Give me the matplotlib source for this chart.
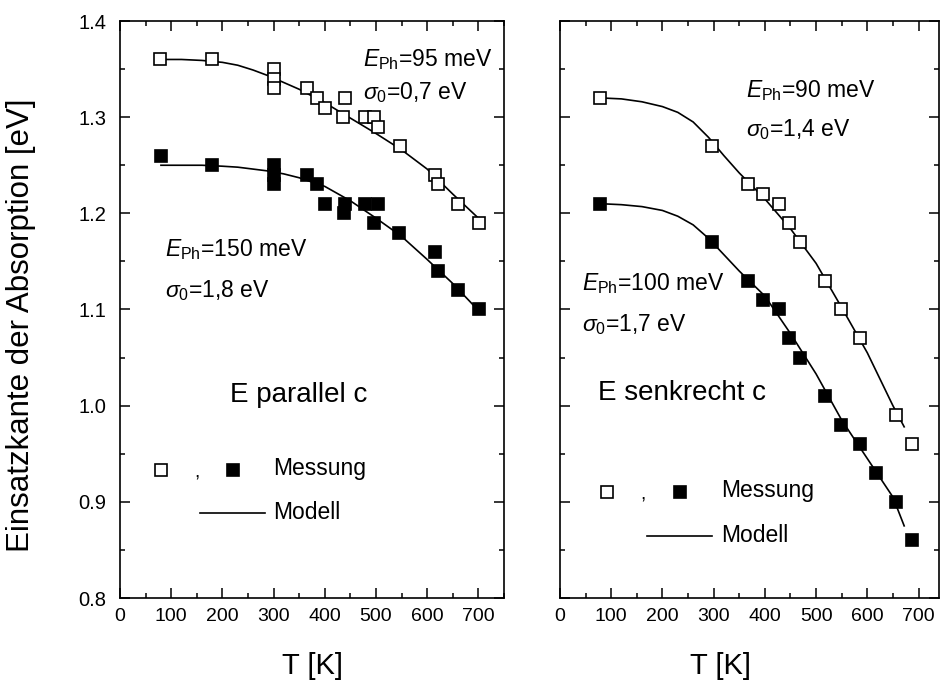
import matplotlib
matplotlib.use("Agg")
import matplotlib.pyplot as plt
from matplotlib.ticker import MultipleLocator

plt.rcParams['font.family'] = ['Liberation Sans', 'DejaVu Sans']
plt.rcParams['mathtext.fontset'] = 'custom'
plt.rcParams['mathtext.rm'] = 'Liberation Sans'
plt.rcParams['mathtext.it'] = 'Liberation Sans:italic'

# ---- Left panel: E parallel c ----
par_open_T = [78, 179, 300, 300, 300, 365, 385, 401, 440, 435, 478, 496, 504, 547, 616, 621, 661, 701]
par_open_E = [1.36, 1.36, 1.35, 1.34, 1.33, 1.33, 1.32, 1.31, 1.32, 1.30, 1.30, 1.30, 1.29, 1.27, 1.24, 1.23, 1.21, 1.19]
par_fill_T = [80, 179, 300, 300, 300, 365, 385, 400, 440, 437, 478, 504, 496, 545, 616, 621, 661, 701]
par_fill_E = [1.26, 1.25, 1.25, 1.24, 1.23, 1.24, 1.23, 1.21, 1.21, 1.20, 1.21, 1.21, 1.19, 1.18, 1.16, 1.14, 1.12, 1.10]
par_model_T = [80, 120, 160, 200, 230, 260, 290, 320, 350, 400, 450, 500, 550, 600, 650, 700]
par_model_open = [1.360, 1.360, 1.359, 1.357, 1.354, 1.349, 1.343, 1.336, 1.329, 1.315, 1.299, 1.283, 1.266, 1.246, 1.220, 1.195]
par_model_fill = [1.250, 1.250, 1.250, 1.249, 1.248, 1.246, 1.244, 1.241, 1.237, 1.228, 1.213, 1.195, 1.176, 1.152, 1.127, 1.099]

# ---- Right panel: E senkrecht c ----
sen_open_T = [78, 297, 367, 397, 427, 447, 468, 518, 548, 586, 657, 688]
sen_open_E = [1.32, 1.27, 1.23, 1.22, 1.21, 1.19, 1.17, 1.13, 1.10, 1.07, 0.99, 0.96]
sen_fill_T = [78, 297, 367, 397, 427, 447, 468, 518, 548, 586, 617, 657, 688]
sen_fill_E = [1.21, 1.17, 1.13, 1.11, 1.10, 1.07, 1.05, 1.01, 0.98, 0.96, 0.93, 0.90, 0.86]
sen_model_T = [80, 120, 160, 200, 230, 260, 290, 320, 350, 400, 450, 500, 550, 600, 650, 672]
sen_model_open = [1.320, 1.319, 1.316, 1.311, 1.305, 1.295, 1.279, 1.260, 1.242, 1.215, 1.184, 1.148, 1.102, 1.055, 1.000, 0.978]
sen_model_fill = [1.210, 1.209, 1.207, 1.203, 1.197, 1.188, 1.174, 1.157, 1.140, 1.114, 1.075, 1.033, 0.985, 0.945, 0.905, 0.875]

x_ticks = [0, 100, 200, 300, 400, 500, 600, 700]
y_ticks = [0.8, 0.9, 1.0, 1.1, 1.2, 1.3, 1.4]

fig = plt.figure(figsize=(9.4, 6.87), dpi=100)
axL = fig.add_axes([120/940, 89/687, 384/940, 577/687])
axR = fig.add_axes([560/940, 89/687, 379/940, 577/687])

ms = 8.5
ms_leg = 8
mew = 1.2
lw = 1.2
fs_ann = 16.5
fs_leg = 16.5

def style(ax, xmax, show_y):
    ax.set_xlim(0, xmax)
    ax.set_ylim(0.8, 1.4)
    ax.set_xticks(x_ticks)
    ax.set_yticks(y_ticks)
    ax.xaxis.set_minor_locator(MultipleLocator(50))
    ax.yaxis.set_minor_locator(MultipleLocator(0.05))
    ax.tick_params(which='both', direction='in', top=True, right=True, width=1.1)
    ax.tick_params(which='major', length=7)
    ax.tick_params(which='minor', length=3.5)
    ax.tick_params(axis='x', which='major', labelsize=14, pad=7)
    ax.tick_params(axis='y', which='major', labelsize=14.5, pad=10)
    if show_y:
        ax.set_yticklabels([f"{v:.1f}" for v in y_ticks])
    else:
        ax.set_yticklabels([])
    for s in ax.spines.values():
        s.set_linewidth(1.2)

# Left panel
axL.plot(par_model_T, par_model_open, color='black', lw=lw)
axL.plot(par_model_T, par_model_fill, color='black', lw=lw)
axL.plot(par_open_T, par_open_E, ls='none', marker='s', ms=ms, mfc='white', mec='black', mew=mew)
axL.plot(par_fill_T, par_fill_E, ls='none', marker='s', ms=ms, mfc='black', mec='black', mew=mew)
style(axL, 750, True)

axL.text(475, 1.360, r'$E_{\mathrm{Ph}}$=95 meV', fontsize=fs_ann, va='center', ha='left')
axL.text(475, 1.326, r'$\sigma_0$=0,7 eV', fontsize=fs_ann, va='center', ha='left')
axL.text(88, 1.162, r'$E_{\mathrm{Ph}}$=150 meV', fontsize=fs_ann, va='center', ha='left')
axL.text(88, 1.120, r'$\sigma_0$=1,8 eV', fontsize=fs_ann, va='center', ha='left')
axL.text(215, 1.011, 'E parallel c', fontsize=20, va='center', ha='left')
axL.plot([81], [0.933], ls='none', marker='s', ms=ms_leg, mfc='white', mec='black', mew=mew)
axL.text(150, 0.930, ',', fontsize=14, va='center', ha='center')
axL.plot([221], [0.933], ls='none', marker='s', ms=ms_leg, mfc='black', mec='black', mew=mew)
axL.text(300, 0.935, 'Messung', fontsize=fs_leg, va='center', ha='left')
axL.plot([157, 284], [0.888, 0.888], color='black', lw=lw)
axL.text(300, 0.889, 'Modell', fontsize=fs_leg, va='center', ha='left')

# Right panel
axR.plot(sen_model_T, sen_model_open, color='black', lw=lw)
axR.plot(sen_model_T, sen_model_fill, color='black', lw=lw)
axR.plot(sen_open_T, sen_open_E, ls='none', marker='s', ms=ms, mfc='white', mec='black', mew=mew)
axR.plot(sen_fill_T, sen_fill_E, ls='none', marker='s', ms=ms, mfc='black', mec='black', mew=mew)
style(axR, 740, False)

axR.text(364, 1.328, r'$E_{\mathrm{Ph}}$=90 meV', fontsize=fs_ann, va='center', ha='left')
axR.text(364, 1.287, r'$\sigma_0$=1,4 eV', fontsize=fs_ann, va='center', ha='left')
axR.text(42, 1.127, r'$E_{\mathrm{Ph}}$=100 meV', fontsize=fs_ann, va='center', ha='left')
axR.text(42, 1.084, r'$\sigma_0$=1,7 eV', fontsize=fs_ann, va='center', ha='left')
axR.text(74, 1.013, 'E senkrecht c', fontsize=20, va='center', ha='left')
axR.plot([92], [0.910], ls='none', marker='s', ms=ms_leg, mfc='white', mec='black', mew=mew)
axR.text(162, 0.907, ',', fontsize=14, va='center', ha='center')
axR.plot([234], [0.910], ls='none', marker='s', ms=ms_leg, mfc='black', mec='black', mew=mew)
axR.text(315, 0.912, 'Messung', fontsize=fs_leg, va='center', ha='left')
axR.plot([169, 296], [0.864, 0.864], color='black', lw=lw)
axR.text(315, 0.865, 'Modell', fontsize=fs_leg, va='center', ha='left')

fig.text(21/940, 1 - 325/687, 'Einsatzkante der Absorption [eV]', rotation=90,
         fontsize=22.5, ha='center', va='center')
fig.text(312/940, 1 - 666/687, 'T [K]', fontsize=21, ha='center', va='center')
fig.text(720/940, 1 - 666/687, 'T [K]', fontsize=21, ha='center', va='center')

fig.savefig('out.png', dpi=100)
